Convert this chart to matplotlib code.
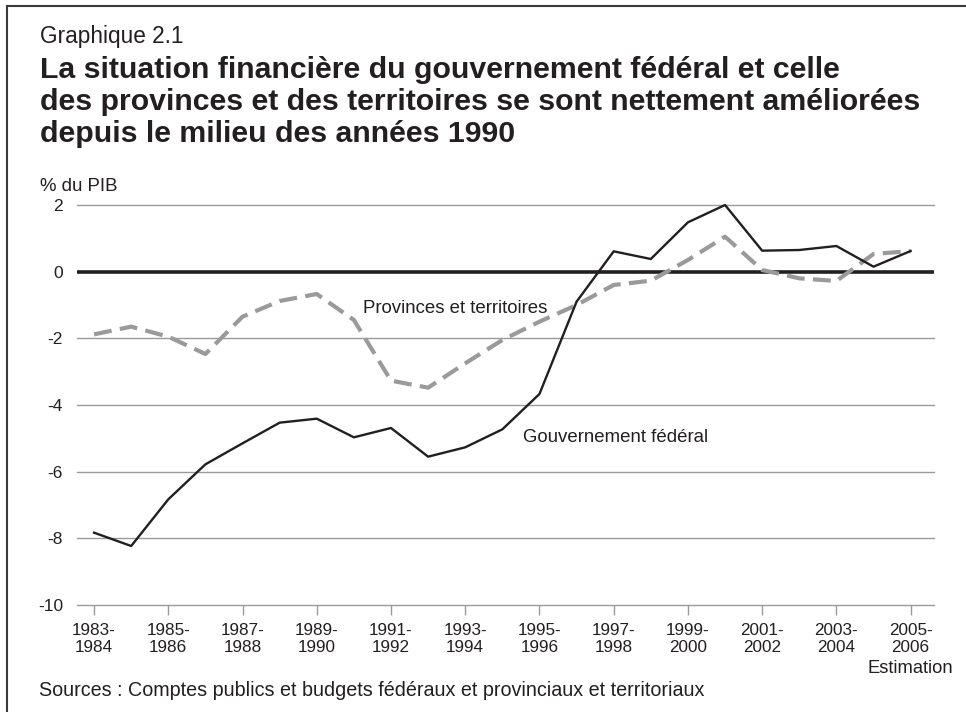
import matplotlib
matplotlib.use("Agg")
import matplotlib.pyplot as plt
from matplotlib.lines import Line2D

plt.rcParams['font.family'] = ['Liberation Sans', 'DejaVu Sans']

years = ["1983-\n1984", "1984-\n1985", "1985-\n1986", "1986-\n1987", "1987-\n1988",
         "1988-\n1989", "1989-\n1990", "1990-\n1991", "1991-\n1992", "1992-\n1993",
         "1993-\n1994", "1994-\n1995", "1995-\n1996", "1996-\n1997", "1997-\n1998",
         "1998-\n1999", "1999-\n2000", "2000-\n2001", "2001-\n2002", "2002-\n2003",
         "2003-\n2004", "2004-\n2005", "2005-\n2006"]
federal = [-7.83, -8.23, -6.83, -5.78, -5.15, -4.53, -4.41, -4.97, -4.69, -5.55,
           -5.27, -4.73, -3.67, -0.9, 0.61, 0.38, 1.48, 2.0, 0.63, 0.65, 0.77, 0.15, 0.62]
provinces = [-1.88, -1.65, -1.95, -2.47, -1.35, -0.88, -0.67, -1.45, -3.27, -3.48,
             -2.75, -2.05, -1.5, -1.0, -0.4, -0.27, 0.35, 1.05, 0.05, -0.2, -0.28, 0.53, 0.62]
yticks = [2, 0, -2, -4, -6, -8, -10]
title_lines = ["La situation financière du gouvernement fédéral et celle",
               "des provinces et des territoires se sont nettement améliorées",
               "depuis le milieu des années 1990"]

W, H = 966, 712
fig = plt.figure(figsize=(W / 100, H / 100), dpi=100)

def fx(px):
    return px / W

def fy(py):
    return 1 - py / H

ax = fig.add_axes([fx(77), fy(605), fx(934) - fx(77), fy(205) - fy(605)])
x = list(range(len(years)))

for v in yticks:
    if v == 0:
        continue
    ax.axhline(v, color='#9a9a9a', lw=1.0, zorder=1, clip_on=False)
ax.axhline(0, color='#231f20', lw=2.6, zorder=2)

ax.plot(x, provinces, color='#9a9a9a', lw=3.0, dashes=(4.3, 2.0), zorder=3,
        solid_capstyle='butt', clip_on=False)
ax.plot(x, federal, color='#231f20', lw=1.7, zorder=4, clip_on=False)

ax.set_xlim(-0.46, 22.63)
ax.set_ylim(-10, 2)
for s in ax.spines.values():
    s.set_visible(False)

ax.set_yticks(yticks)
ax.set_yticklabels([str(v) for v in yticks], fontsize=12.5, color='#231f20')
ax.tick_params(axis='y', length=0, pad=10)

ax.set_xticks(x[::2])
ax.set_xticklabels(years[::2], fontsize=12.3, color='#231f20', linespacing=1.15)
ax.tick_params(axis='x', length=7, width=1, color='#9a9a9a', pad=6)

ax.annotate("Estimation", xy=(x[-1], 0), xycoords=('data', 'axes fraction'),
            xytext=(0, -45.5), textcoords='offset points', fontsize=13.2,
            color='#231f20', ha='center', va='center')

ax.text(7.25, -1.09, "Provinces et territoires", fontsize=13.4, color='#231f20',
        ha='left', va='center')
ax.text(11.55, -4.96, "Gouvernement fédéral", fontsize=13.4, color='#231f20',
        ha='left', va='center')

fig.text(fx(40), fy(36), "Graphique 2.1", fontsize=16.3, color='#231f20', va='center', ha='left')
for i, line in enumerate(title_lines):
    fig.text(fx(40), fy(78 + 32 * i), line, fontsize=21.8, fontweight='bold',
             color='#231f20', va='baseline', ha='left')
fig.text(fx(40), fy(191), "% du PIB", fontsize=13.4, color='#231f20', va='baseline', ha='left')
fig.text(fx(39), fy(690), "Sources : Comptes publics et budgets fédéraux et provinciaux et territoriaux",
         fontsize=14.2, color='#231f20', va='center', ha='left')

# frame
fig.add_artist(Line2D([fx(7), fx(7)], [fy(6), 0], color='#3a3a3a', lw=1.5, transform=fig.transFigure))
fig.add_artist(Line2D([fx(7), 1], [fy(6), fy(6)], color='#3a3a3a', lw=1.5, transform=fig.transFigure))

fig.savefig("out.png", dpi=100)
